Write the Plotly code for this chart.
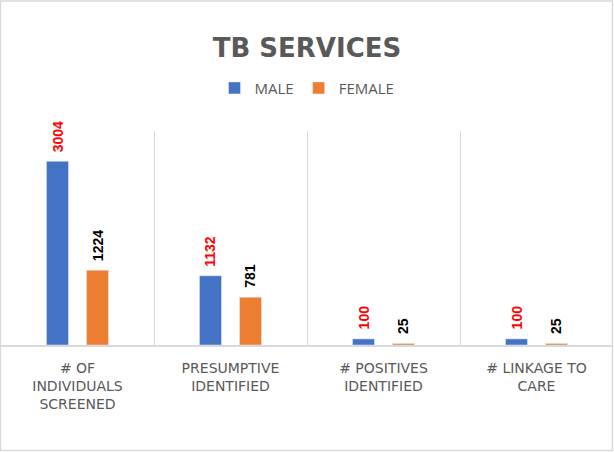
import plotly.graph_objects as go

# data
categories = [
    "# OF<br>INDIVIDUALS<br>SCREENED",
    "PRESUMPTIVE<br>IDENTIFIED",
    "# POSITIVES<br>IDENTIFIED",
    "# LINKAGE TO<br>CARE",
]
male = [3004, 1132, 100, 100]
female = [1224, 781, 25, 25]

W, H = 614, 452
M_L, M_R, M_T, M_B = 1, 1, 131, 107
GRID = "#d9d9d9"
GRAY = "#595959"

fig = go.Figure()
fig.add_trace(go.Bar(name="MALE", x=categories, y=male, marker_color="#4472C4"))
fig.add_trace(go.Bar(name="FEMALE", x=categories, y=female, marker_color="#ED7D31"))

# value labels, rotated, sitting just above each bar
label_font = dict(family="Liberation Sans", size=14)
for vals, shift, col in [(male, -20, "#FF0000"), (female, 20, "#000000")]:
    for c, v in zip(categories, vals):
        fig.add_annotation(
            x=c, y=v, text=f"<b>{v}</b>", showarrow=False, textangle=-90,
            xshift=shift, yshift=7, yanchor="bottom",
            font=dict(color=col, **label_font),
        )

plot_w = W - M_L - M_R
plot_h = H - M_T - M_B
fig.add_shape(
    type="rect", xref="paper", yref="paper",
    x0=-0.5 / plot_w, x1=1 - 0.5 / plot_w,
    y0=-(M_B - 1.5) / plot_h, y1=1 + (M_T - 1) / plot_h,
    line=dict(color=GRID, width=1.5),
)

fig.update_layout(
    width=W, height=H,
    margin=dict(l=M_L, r=M_R, t=M_T, b=M_B),
    paper_bgcolor="white", plot_bgcolor="white",
    title=dict(
        text="<b>TB SERVICES</b>", x=0.5, xanchor="center", y=0.895, yanchor="middle",
        font=dict(family="DejaVu Sans", size=26, color=GRAY),
    ),
    legend=dict(
        orientation="h", x=0.5, xanchor="center", y=1.2, yanchor="middle",
        font=dict(family="Open Sans", size=15, color=GRAY),
        itemwidth=30,
    ),
    barmode="group", bargap=0.477, bargroupgap=0.45,
    xaxis=dict(
        tickson="boundaries", showgrid=True, gridcolor=GRID, gridwidth=1.4,
        showline=True, linecolor=GRID, linewidth=1.5, ticks="",
        ticklabelstandoff=9,
        tickfont=dict(family="DejaVu Sans", size=14, color=GRAY),
    ),
    yaxis=dict(range=[0, 3500], showgrid=False, showticklabels=False, zeroline=False),
    showlegend=True,
)

# the page body has a default 8px margin; drop it so the figure fills the window
fig.write_html(
    "out.html",
    config={"displayModeBar": False},
    post_script="document.body.style.margin='0';",
)
